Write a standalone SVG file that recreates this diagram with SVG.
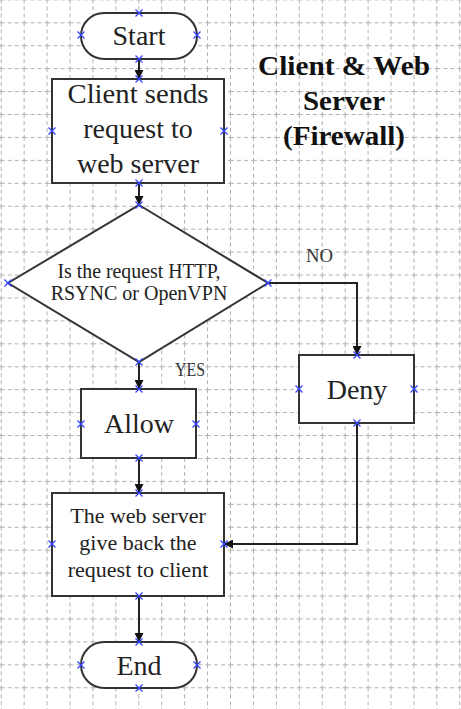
<svg xmlns="http://www.w3.org/2000/svg" width="461" height="709" viewBox="0 0 461 709">
<defs>
<pattern id="grid" patternUnits="userSpaceOnUse" x="0.7" y="22.3" width="22.93" height="22.93">
<path d="M0.5 0V22.93" stroke="#b0b0b0" stroke-width="1" stroke-dasharray="4 3" fill="none"/>
<path d="M0 0.5H22.93" stroke="#b0b0b0" stroke-width="1" stroke-dasharray="4 3" fill="none"/>
</pattern>
<marker id="arr" viewBox="0 0 10 10" refX="10" refY="5" markerWidth="9" markerHeight="9" markerUnits="userSpaceOnUse" orient="auto">
<path d="M0 0L10 5L0 10Z" fill="#111"/>
</marker>
<path id="x" d="M-3.5 -3.5L3.5 3.5M-3.5 3.5L3.5 -3.5" stroke="#3344ff" stroke-width="1.3" fill="none"/>
</defs>
<style>
.shape{fill:#fff;stroke:#333;stroke-width:2}
.t{font-family:"Liberation Serif","Times New Roman",serif;fill:#222;text-anchor:middle}
.big{font-size:28px}
.mid{font-size:22px}
.sm{font-size:20px}
.title{font-family:"Liberation Serif","Times New Roman",serif;font-weight:bold;font-size:28px;fill:#111;text-anchor:middle}
.lbl{font-family:"Liberation Serif","Times New Roman",serif;font-size:18px;fill:#333}
.c{fill:none;stroke:#222;stroke-width:2}
</style>
<rect width="461" height="709" fill="#fff"/>
<rect width="461" height="709" fill="url(#grid)"/>

<g id="title">
<text class="title" x="344" y="75" textLength="172" lengthAdjust="spacingAndGlyphs">Client &amp; Web</text>
<text class="title" x="344" y="110" textLength="82" lengthAdjust="spacingAndGlyphs">Server</text>
<text class="title" x="344" y="145" textLength="122" lengthAdjust="spacingAndGlyphs">(Firewall)</text>
</g>

<g id="connectors">
<path class="c" d="M139 59V79" marker-end="url(#arr)"/>
<path class="c" d="M139 183V205" marker-end="url(#arr)"/>
<path class="c" d="M139 362V389" marker-end="url(#arr)"/>
<path class="c" d="M268 283H357V355" marker-end="url(#arr)"/>
<path class="c" d="M139 458V493" marker-end="url(#arr)"/>
<path class="c" d="M357 423V544H224" marker-end="url(#arr)"/>
<path class="c" d="M139 596V642" marker-end="url(#arr)"/>
<text class="lbl" x="306" y="262" textLength="27" lengthAdjust="spacingAndGlyphs">NO</text>
<text class="lbl" x="175" y="376" textLength="30" lengthAdjust="spacingAndGlyphs">YES</text>
</g>

<g id="start">
<rect class="shape" x="81" y="13" width="116" height="46" rx="23"/>
<text class="t big" x="139" y="45">Start</text>
</g>

<g id="client">
<rect class="shape" x="52" y="79" width="172" height="104"/>
<text class="t big" x="138" y="103" textLength="141" lengthAdjust="spacingAndGlyphs">Client sends</text>
<text class="t big" x="138" y="138">request to</text>
<text class="t big" x="138" y="173">web server</text>
</g>

<g id="decision">
<path class="shape" d="M139 205L268 283L139 362L8 283Z"/>
<text class="t sm" x="139" y="278" textLength="163" lengthAdjust="spacingAndGlyphs">Is the request HTTP,</text>
<text class="t sm" x="139" y="300">RSYNC or OpenVPN</text>
</g>

<g id="allow">
<rect class="shape" x="81" y="389" width="115" height="69"/>
<text class="t big" x="139" y="433">Allow</text>
</g>

<g id="deny">
<rect class="shape" x="299" y="355" width="115" height="68"/>
<text class="t big" x="357" y="399">Deny</text>
</g>

<g id="webserver">
<rect class="shape" x="52" y="493" width="172" height="103"/>
<text class="t mid" x="138" y="523">The web server</text>
<text class="t mid" x="138" y="550">give back the</text>
<text class="t mid" x="138" y="577">request to client</text>
</g>

<g id="end">
<rect class="shape" x="81" y="642" width="116" height="46" rx="23"/>
<text class="t big" x="139" y="675">End</text>
</g>

<g id="points">
<use href="#x" x="139" y="13"/><use href="#x" x="81" y="35"/><use href="#x" x="197" y="35"/><use href="#x" x="139" y="59"/>
<use href="#x" x="139" y="79"/><use href="#x" x="52" y="131"/><use href="#x" x="224" y="131"/><use href="#x" x="139" y="183"/>
<use href="#x" x="139" y="205"/><use href="#x" x="8" y="283"/><use href="#x" x="268" y="283"/><use href="#x" x="139" y="362"/>
<use href="#x" x="139" y="389"/><use href="#x" x="81" y="424"/><use href="#x" x="196" y="424"/><use href="#x" x="139" y="458"/>
<use href="#x" x="357" y="355"/><use href="#x" x="299" y="389"/><use href="#x" x="414" y="389"/><use href="#x" x="357" y="423"/>
<use href="#x" x="139" y="493"/><use href="#x" x="52" y="544"/><use href="#x" x="224" y="544"/><use href="#x" x="139" y="596"/>
<use href="#x" x="139" y="642"/><use href="#x" x="81" y="665"/><use href="#x" x="197" y="665"/><use href="#x" x="139" y="688"/>
</g>
</svg>
